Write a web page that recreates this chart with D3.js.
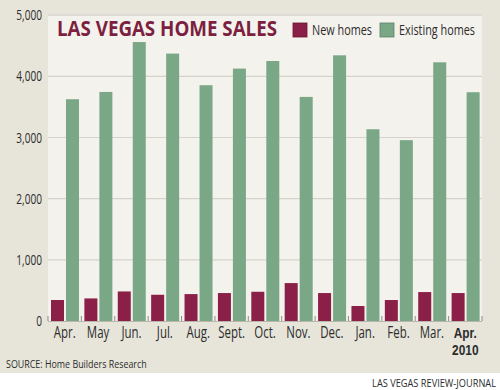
<!DOCTYPE html>
<html><head><meta charset="utf-8">
<script src="https://cdn.jsdelivr.net/npm/d3@7"></script>
<style>body{margin:0;background:#fff}svg{display:block}</style>
</head><body>
<script>
const months = ["Apr.","May","Jun.","Jul.","Aug.","Sept.","Oct.","Nov.","Dec.","Jan.","Feb.","Mar.","Apr."];
const lastYear = "2010";
const newHomes = [343,369,483,429,440,457,478,620,457,245,343,473,457];
const existingHomes = [3626,3745,4561,4372,3855,4127,4251,3664,4344,3135,2957,4230,3741];
const yTicks = [0,1000,2000,3000,4000,5000];
const seriesNames = ["New homes","Existing homes"];
const colors = ["#8a1f47","#7aa886"];

const W=500,H=390;
const svg=d3.select("body").append("svg").attr("width",W).attr("height",H);
const font="'Open Sans',sans-serif";
function ctext(x,y,str,size,sx,anchor,weight,fill,fam){
  return svg.append("text").attr("transform",`translate(${x},${y}) scale(${sx},1)`)
   .attr("text-anchor",anchor||"start").attr("font-family",fam||font).attr("font-size",size)
   .attr("font-weight",weight||"normal").attr("fill",fill||"#2c2c2c").text(str);
}
svg.append("rect").attr("width",W).attr("height",373).attr("fill","#e7e5da");
const m={l:48,r:482,t:15,b:321};
svg.append("rect").attr("x",m.l).attr("y",m.t).attr("width",m.r-m.l).attr("height",m.b-m.t).attr("fill","#f4f2ed");

const x=d3.scaleBand().domain(d3.range(months.length)).range([m.l,m.r]).padding(0);
const y=d3.scaleLinear().domain([0,5000]).range([m.b,m.t+0.2]);

svg.append("g").selectAll("line").data(yTicks.filter(d=>d>0)).join("line")
 .attr("x1",m.l).attr("x2",m.r).attr("y1",d=>y(d)).attr("y2",d=>y(d))
 .attr("stroke","#d6d3ca").attr("stroke-width",1.2);

yTicks.forEach(d=>ctext(42,y(d)+5,d3.format(",")(d),14,0.72,"end"));

const bw=13;
const g=svg.append("g");
g.selectAll("rect.n").data(newHomes).join("rect").attr("class","n")
 .attr("x",(d,i)=>x(i)+3).attr("width",bw).attr("y",d=>y(d)).attr("height",d=>y(0)-y(d)).attr("fill",colors[0]);
g.selectAll("rect.e").data(existingHomes).join("rect").attr("class","e")
 .attr("x",(d,i)=>x(i)+18).attr("width",bw).attr("y",d=>y(d)).attr("height",d=>y(0)-y(d)).attr("fill",colors[1]);

svg.append("line").attr("x1",m.l).attr("x2",m.r).attr("y1",m.b+0.5).attr("y2",m.b+0.5).attr("stroke","#b9b6ac").attr("stroke-width",1);
svg.append("g").selectAll("line").data(d3.range(months.length+1)).join("line")
 .attr("x1",i=>m.l+i*x.bandwidth()).attr("x2",i=>m.l+i*x.bandwidth())
 .attr("y1",m.b-5).attr("y2",m.b).attr("stroke","#8f8c84").attr("stroke-width",1);

months.forEach((d,i)=>{
  const last=i===months.length-1;
  if(!last) ctext(x(i)+x.bandwidth()/2,338,d,15.5,0.74,"middle","normal");
  else {
    ctext(x(i)+x.bandwidth()/2,338,d,14.5,0.82,"middle","bold",null,"'Liberation Sans',sans-serif");
    ctext(x(i)+x.bandwidth()/2,354.5,lastYear,14.5,0.82,"middle","bold",null,"'Liberation Sans',sans-serif");
  }
});

svg.append("text").attr("x",57).attr("y",36).attr("font-family",font).attr("font-weight","bold")
 .attr("font-size",21).attr("fill","#7c1f40").attr("textLength",220).attr("lengthAdjust","spacingAndGlyphs")
 .text("LAS VEGAS HOME SALES");

const lg=[{x:293,tx:312,tw:60},{x:380,tx:399,tw:76}];
seriesNames.forEach((s,i)=>{
 svg.append("rect").attr("x",lg[i].x).attr("y",23).attr("width",14).attr("height",14)
  .attr("fill",colors[i]).attr("stroke",i===0?"#6a1634":"#5d7f66").attr("stroke-width",0.8);
 svg.append("text").attr("x",lg[i].tx).attr("y",35).attr("font-family",font).attr("font-size",14)
  .attr("fill","#2c2c2c").attr("textLength",lg[i].tw).attr("lengthAdjust","spacingAndGlyphs").text(s);
});

ctext(6,368,"SOURCE: Home Builders Research",11.5,0.775,"start");
ctext(496,387,"LAS VEGAS REVIEW-JOURNAL",11,0.84,"end");
</script>
</body></html>
